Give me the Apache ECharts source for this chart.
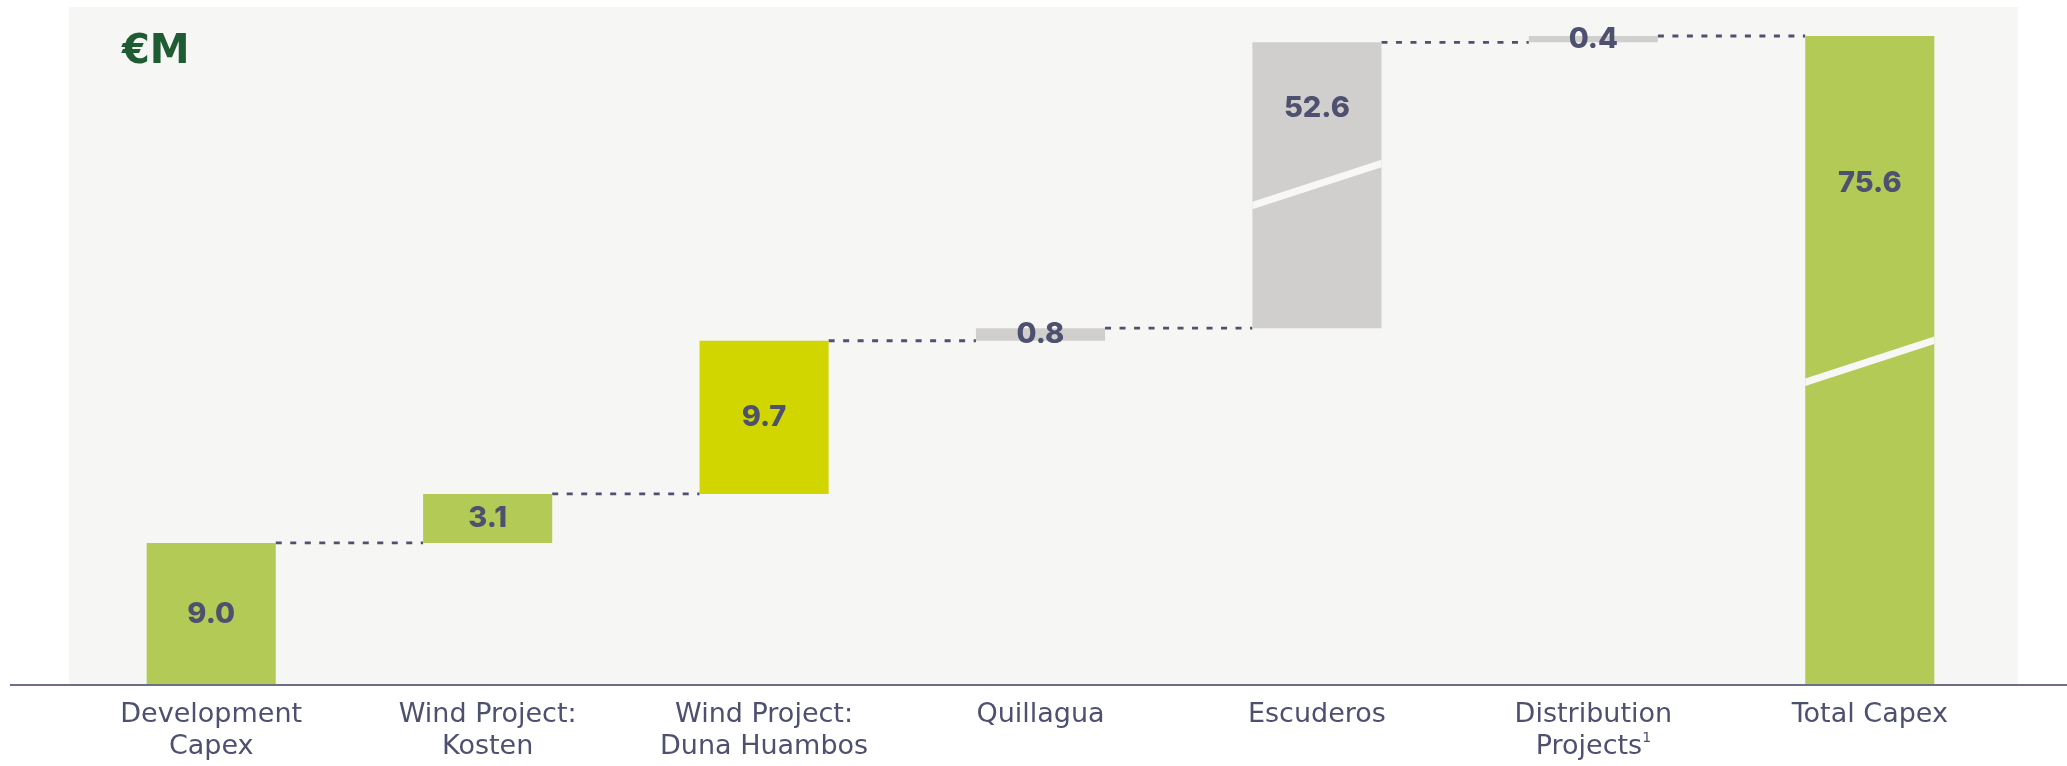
<!DOCTYPE html>
<html><head><meta charset="utf-8">
<script src="https://cdn.jsdelivr.net/npm/echarts@6/dist/echarts.min.js"></script>
<style>html,body{margin:0;padding:0;background:#fff}#c{width:2067px;height:766px}</style>
</head><body><div id="c"></div>
<script>
const categories = ['Development\nCapex', 'Wind Project:\nKosten', 'Wind Project:\nDuna Huambos', 'Quillagua', 'Escuderos', 'Distribution\nProjects{sup|1}', 'Total Capex'];
const values = [9.0, 3.1, 9.7, 0.8, 52.6, 0.4, 75.6];
const isTotal = [false, false, false, false, false, false, true];
const barColors = ['#b3cb56', '#b3cb56', '#d1d600', '#d0cfcd', '#d0cfcd', '#d0cfcd', '#b3cb56'];
const labelOffsets = [0, 0, 0, 0, -77, 0, -177];
const breakMarks = [[4, 31.7], [6, 20.5]];
const axisBreak = { start: 35, end: 69.5 };

const bases = [];
let cum = 0;
values.forEach((v, i) => {
  if (isTotal[i]) { bases.push(0); } else { bases.push(cum); cum += v; }
});
const connectors = [];
for (let i = 0; i < values.length - 1; i++) connectors.push([i, bases[i] + values[i]]);

const BAR_RATIO = 0.467;
const textColor = '#4e5070';
const font = 'DejaVu Sans';

const chart = echarts.init(document.getElementById('c'), null, { renderer: 'canvas' });
chart.setOption({
  animation: false,
  backgroundColor: '#ffffff',
  title: {
    text: '€M', left: 117, top: 27,
    textStyle: { fontFamily: font, fontSize: 40, fontWeight: 'bold', color: '#1f5c33', lineHeight: 42 }
  },
  graphic: [
    { type: 'rect', z: -10, silent: true, shape: { x: 69, y: 7, width: 1949, height: 678 }, style: { fill: '#f6f6f4' } },
    { type: 'line', z: 100, silent: true, shape: { x1: 10, y1: 685, x2: 2067, y2: 685 }, style: { stroke: '#6d6e87', lineWidth: 2 } }
  ],
  grid: { left: 73, right: 59, top: 36, bottom: 81, containLabel: false },
  xAxis: {
    type: 'category', data: categories,
    axisLine: { show: false }, axisTick: { show: false },
    axisLabel: {
      interval: 0, margin: 14, color: textColor, fontFamily: font, fontSize: 27, lineHeight: 32,
      rich: { sup: { fontFamily: font, fontSize: 14, color: textColor, verticalAlign: 'top', lineHeight: 32, padding: [0, 0, 8, 0] } }
    }
  },
  yAxis: {
    type: 'value', min: 0, max: 75.6,
    breaks: [{ start: axisBreak.start, end: axisBreak.end, gap: 0 }],
    breakArea: { show: false },
    axisLine: { show: false }, axisTick: { show: false }, axisLabel: { show: false }, splitLine: { show: false }
  },
  series: [
    {
      type: 'custom', z: 1, silent: true, data: connectors,
      renderItem: function (params, api) {
        const i = api.value(0), lvl = api.value(1);
        const p0 = api.coord([i, lvl]);
        const p1 = api.coord([i + 1, lvl]);
        const hw = api.size([1, 0])[0] * BAR_RATIO / 2;
        return { type: 'line', shape: { x1: p0[0] + hw, y1: p0[1], x2: p1[0] - hw, y2: p1[1] },
          style: { stroke: '#4f5170', lineWidth: 2.8, lineDash: [6, 8.5] } };
      }
    },
    {
      type: 'bar', stack: 'w', z: 2, silent: true, barWidth: (BAR_RATIO * 100) + '%',
      itemStyle: { color: 'transparent' }, data: bases
    },
    {
      type: 'bar', stack: 'w', z: 2, silent: true, barWidth: (BAR_RATIO * 100) + '%',
      data: values.map((v, i) => ({
        value: v,
        itemStyle: { color: barColors[i] },
        label: { offset: [0, labelOffsets[i]] }
      })),
      label: {
        show: true, position: 'inside', color: textColor, fontFamily: 'Inter', fontWeight: 800, fontSize: 29,
        formatter: p => p.value.toFixed(1)
      }
    },
    {
      type: 'custom', z: 3, silent: true, data: breakMarks,
      renderItem: function (params, api) {
        const c = api.coord([api.value(0), api.value(1)]);
        const hw = api.size([1, 0])[0] * BAR_RATIO / 2;
        const d = 21, t = 3.8;
        return { type: 'polygon', shape: { points: [
          [c[0] - hw, c[1] + d - t], [c[0] + hw, c[1] - d - t], [c[0] + hw, c[1] - d + t], [c[0] - hw, c[1] + d + t]
        ] }, style: { fill: '#f7f7f5' } };
      }
    }
  ]
});
</script>
</body></html>
